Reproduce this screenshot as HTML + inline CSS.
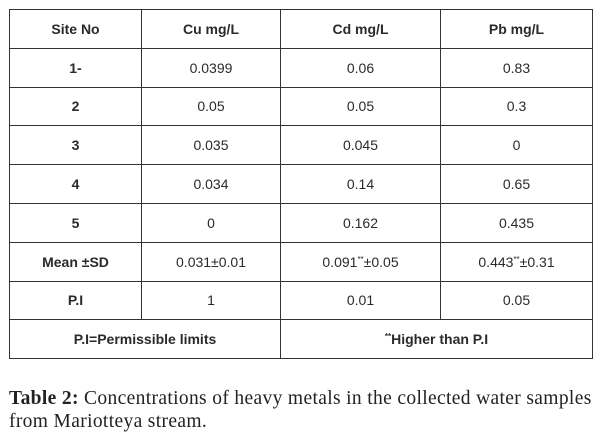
<!DOCTYPE html>
<html><head><meta charset="utf-8"><style>
body{margin:0;width:600px;height:444px;background:#fff;position:relative;overflow:hidden}
table{position:absolute;left:9px;top:9px;border-collapse:collapse;font-family:"Liberation Sans",sans-serif;font-size:14px;color:#2a2a2a}
td{border:1.5px solid #333;text-align:center;height:37.8px;padding:0}
td.b{font-weight:bold}
sup{font-size:8px;vertical-align:5px}
.cap{position:absolute;left:9px;top:387px;font-family:"Liberation Serif",serif;font-size:19.5px;line-height:23px;color:#222;width:600px;letter-spacing:0.35px;white-space:nowrap}
</style></head><body>
<table>
<colgroup><col style="width:132px"><col style="width:139px"><col style="width:160px"><col style="width:152px"></colgroup>
<tr><td class="b">Site No</td><td class="b">Cu mg/L</td><td class="b">Cd mg/L</td><td class="b">Pb mg/L</td></tr>
<tr><td class="b">1-</td><td>0.0399</td><td>0.06</td><td>0.83</td></tr>
<tr><td class="b">2</td><td>0.05</td><td>0.05</td><td>0.3</td></tr>
<tr><td class="b">3</td><td>0.035</td><td>0.045</td><td>0</td></tr>
<tr><td class="b">4</td><td>0.034</td><td>0.14</td><td>0.65</td></tr>
<tr><td class="b">5</td><td>0</td><td>0.162</td><td>0.435</td></tr>
<tr><td class="b">Mean ±SD</td><td>0.031±0.01</td><td>0.091<sup>**</sup>±0.05</td><td>0.443<sup>**</sup>±0.31</td></tr>
<tr><td class="b">P.I</td><td>1</td><td>0.01</td><td>0.05</td></tr>
<tr><td class="b" colspan="2">P.I=Permissible limits</td><td class="b" colspan="2"><sup>**</sup>Higher than P.I</td></tr>
</table>
<div class="cap"><b>Table 2:</b> Concentrations of heavy metals in the collected water samples<br>from Mariotteya stream.</div>
</body></html>
